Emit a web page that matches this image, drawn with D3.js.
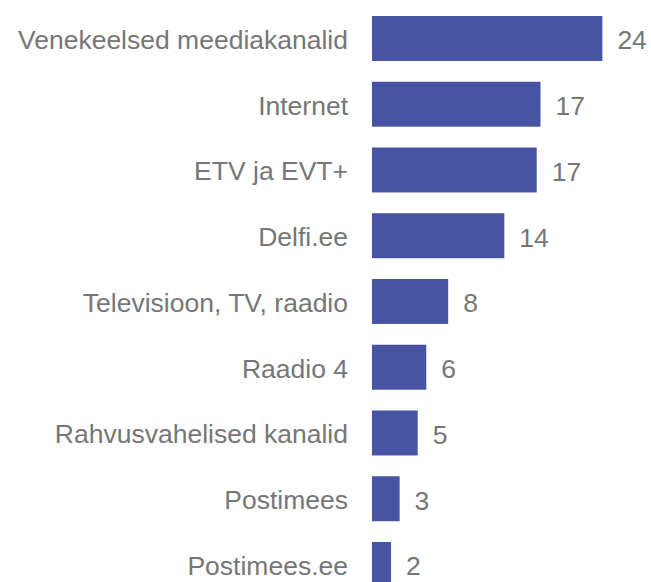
<!DOCTYPE html>
<html>
<head>
<meta charset="utf-8">
<script src="https://cdn.jsdelivr.net/npm/d3@7"></script>
<style>
  html, body { margin: 0; padding: 0; background: #fff; }
  text { font-family: "Liberation Sans", Arial, sans-serif; }
</style>
</head>
<body>
<div id="chart"></div>
<script>
// Kategooriad ja väärtused (loetud pildilt)
const categories = [
  "Venekeelsed meediakanalid",
  "Internet",
  "ETV ja EVT+",
  "Delfi.ee",
  "Televisioon, TV, raadio",
  "Raadio 4",
  "Rahvusvahelised kanalid",
  "Postimees",
  "Postimees.ee"
];
const values = [24.2, 17.7, 17.3, 13.9, 8.0, 5.7, 4.8, 2.9, 2.0];
const valueLabels = ["24", "17", "17", "14", "8", "6", "5", "3", "2"];

const width = 651;
const height = 582;
const barColor = "#4753a3";
const textColor = "#767676";
const fontSize = 26.5;

const svg = d3.select("#chart")
  .append("svg")
  .attr("width", width)
  .attr("height", height);

// Skaalad
const x = d3.scaleLinear()
  .domain([0, 30])
  .range([372, 372 + 30 * 9.52]);

const step = 65.75;
const y = d3.scaleBand()
  .domain(categories)
  .range([5.6, 5.6 + categories.length * step])
  .paddingInner(0.316)
  .paddingOuter(0.158);

const rows = svg.selectAll("g.row")
  .data(categories)
  .enter()
  .append("g")
  .attr("class", "row");

// Tulbad
rows.append("rect")
  .attr("x", x(0))
  .attr("y", d => y(d))
  .attr("width", (d, i) => x(values[i]) - x(0))
  .attr("height", y.bandwidth())
  .attr("fill", barColor);

// Kategooriate nimed
rows.append("text")
  .attr("x", x(0) - 24)
  .attr("y", d => y(d) + y.bandwidth() / 2 + 10.5)
  .attr("text-anchor", "end")
  .attr("font-size", fontSize)
  .attr("fill", textColor)
  .text(d => d);

// Väärtused
rows.append("text")
  .attr("x", (d, i) => x(values[i]) + 15)
  .attr("y", d => y(d) + y.bandwidth() / 2 + 11)
  .attr("font-size", fontSize)
  .attr("fill", textColor)
  .text((d, i) => valueLabels[i]);
</script>
</body>
</html>
